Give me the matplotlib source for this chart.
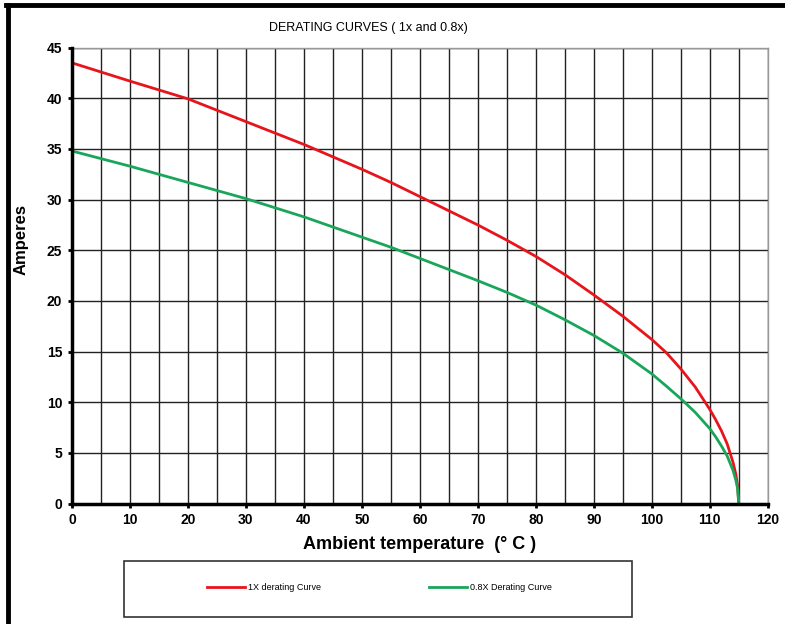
import matplotlib
matplotlib.use('Agg')
import matplotlib.pyplot as plt
from matplotlib.patches import Rectangle
from matplotlib.lines import Line2D
import numpy as np

fonte = ['Liberation Sans Narrow', 'Liberation Sans', 'DejaVu Sans']
plt.rcParams['font.family'] = fonte

# dados
temp_1x = [0, 10, 20, 30, 40, 50, 55, 60, 65, 70, 75, 80, 85, 90, 95, 100, 102.5, 105, 107.5,
           110, 111, 112, 113, 114, 114.5, 114.8, 115]
amp_1x = [43.5, 41.7, 39.95, 37.7, 35.45, 33.0, 31.7, 30.3, 28.9, 27.5, 26.0, 24.4, 22.6, 20.6,
          18.5, 16.2, 14.9, 13.3, 11.5, 9.3, 8.3, 7.2, 5.9, 4.1, 2.9, 1.8, 0.0]

temp_08x = [0, 10, 20, 30, 40, 50, 55, 60, 65, 70, 75, 80, 85, 90, 95, 100, 102.5, 105, 107.5,
            110, 111, 112, 113, 114, 114.5, 114.8, 115]
amp_08x = [34.8, 33.3, 31.7, 30.1, 28.3, 26.3, 25.3, 24.2, 23.1, 22.0, 20.85, 19.6, 18.15, 16.6,
           14.85, 12.8, 11.6, 10.35, 9.0, 7.4, 6.6, 5.7, 4.7, 3.3, 2.3, 1.5, 0.0]

rotulos = ['1X derating Curve', '0.8X Derating Curve']
cores = ['#e8141c', '#1aa65a']

fig = plt.figure(figsize=(7.85, 6.24), dpi=100)
ax = fig.add_axes([0.0917, 0.193, 0.8863, 0.7306])

ax.plot(temp_1x, amp_1x, color=cores[0], linewidth=2, zorder=3)
ax.plot(temp_08x, amp_08x, color=cores[1], linewidth=2, zorder=3)

ax.set_xlim(0, 120)
ax.set_ylim(0, 45)
ax.set_xticks(np.arange(0, 121, 10))
ax.set_xticks(np.arange(0, 121, 5), minor=True)
ax.set_yticks(np.arange(0, 46, 5))

ax.grid(which='both', axis='x', color='#222222', linewidth=1)
ax.grid(which='major', axis='y', color='#222222', linewidth=1)
ax.tick_params(axis='x', which='minor', length=0)
ax.tick_params(axis='both', which='major', length=3, width=2, direction='out', pad=4)

for lab in ax.get_xticklabels() + ax.get_yticklabels():
    lab.set_fontsize(10)
    lab.set_fontweight('bold')

for lado in ['left', 'bottom']:
    ax.spines[lado].set_linewidth(2.5)
    ax.spines[lado].set_color('black')
    ax.spines[lado].set_zorder(4)
for lado in ['top', 'right']:
    ax.spines[lado].set_linewidth(1)
    ax.spines[lado].set_color('#999999')

ax.set_xlabel('Ambient temperature  (° C )', fontsize=13, fontweight='bold',
              family=['Liberation Sans', 'DejaVu Sans'], labelpad=6)
ax.set_ylabel('Amperes', fontsize=12, fontweight='bold',
              family=['Liberation Sans', 'DejaVu Sans'])
ax.yaxis.set_label_coords(-0.062, 0.58)

fig.text(0.469, 0.955, 'DERATING CURVES ( 1x and 0.8x)', ha='center', va='center', fontsize=9)

# moldura
fig.add_artist(Line2D([0.008, 1.0], [0.9915, 0.9915], color='black', linewidth=3.5))
fig.add_artist(Line2D([0.0105, 0.0105], [0.0, 0.9915], color='black', linewidth=3.5))

# caixa da legenda
fig.add_artist(Rectangle((0.1578, 0.0112), 0.6475, 0.0897, transform=fig.transFigure,
                         fill=False, edgecolor='#333333', linewidth=1.2))
handles = [Line2D([], [], color=cores[0], linewidth=2), Line2D([], [], color=cores[1], linewidth=2)]
fig.legend(handles, rotulos, loc='center', bbox_to_anchor=(0.483, 0.058), ncol=2,
           frameon=False, fontsize=6.5, handlelength=4.2, handletextpad=0.3,
           columnspacing=12)

fig.savefig('out.png', dpi=100)
